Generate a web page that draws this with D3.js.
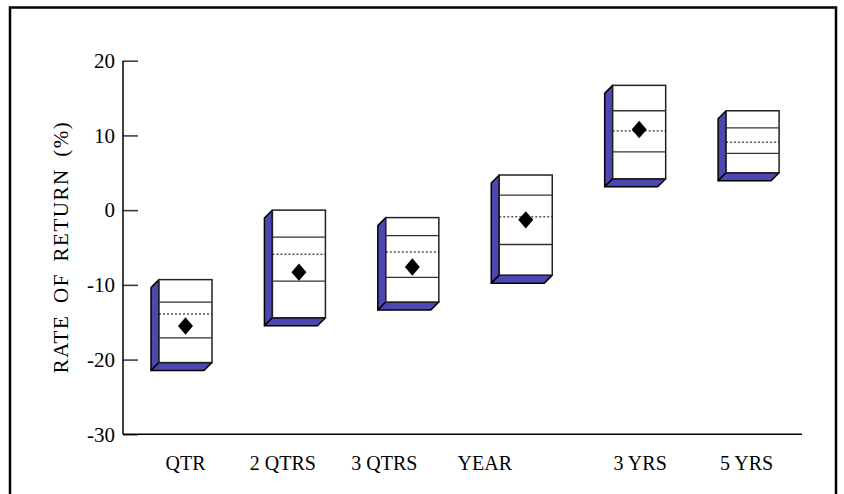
<!DOCTYPE html>
<html><head><meta charset="utf-8">
<script src="https://cdn.jsdelivr.net/npm/d3@7"></script>
<style>body{margin:0;background:#fff}svg{display:block}</style>
</head><body>
<script>
const categories = ["QTR","2 QTRS","3 QTRS","YEAR","3 YRS","5 YRS"];
const pct5  = [-9.3,  0.0, -1.0,  4.7, 16.7, 13.3];
const pct25 = [-12.3, -3.6, -3.4,  2.0, 13.3, 11.0];
const pct50 = [-13.9, -5.9, -5.6, -0.9, 10.6,  9.1];
const pct75 = [-17.1, -9.5, -9.0, -4.6,  7.8,  7.6];
const pct95 = [-20.4,-14.4,-12.3, -8.7,  4.2,  5.0];
const portfolio = [-15.5, -8.3, -7.6, -1.3, 10.8, null];
const yTicks = [-30,-20,-10,0,10,20];
const labelNudge = [0,-16,-28,-41,1,-6];

const W=844,H=494;
const svg=d3.select("body").append("svg").attr("width",W).attr("height",H);
svg.append("rect").attr("x",10).attr("y",7.5).attr("width",826).attr("height",500)
  .attr("fill","none").attr("stroke","#000").attr("stroke-width",2.5);

const y=d3.scaleLinear().domain([-30,20]).range([434.3,60.7]);
const x=d3.scalePoint().domain(categories).range([185.5,752.6]);
const axX0=123, axX1=802;
const hw=26.5, dep=8;
const blue="#4B48B2";
const font="'Liberation Serif','Times New Roman',serif";

// y axis
const ya=svg.append("g").attr("transform",`translate(${axX0},0)`)
  .call(d3.axisLeft(y).tickValues(yTicks).tickSize(-15).tickPadding(8).tickFormat(d=>String(d)));
ya.select(".domain").remove();
ya.selectAll(".tick line").attr("stroke","#333").attr("stroke-width",1.5);
ya.selectAll(".tick text").attr("font-family",font).attr("font-size",21).attr("fill","#000");
svg.append("line").attr("x1",axX0).attr("x2",axX0).attr("y1",y(20)).attr("y2",y(-30)).attr("stroke","#000").attr("stroke-width",1.5);
svg.append("line").attr("x1",axX0).attr("x2",axX1).attr("y1",y(-30)).attr("y2",y(-30)).attr("stroke","#000").attr("stroke-width",1.5);

// x labels
svg.append("g").selectAll("text").data(categories).join("text")
  .attr("x",(d,i)=>x(d)+labelNudge[i]).attr("y",470)
  .attr("text-anchor","middle").attr("font-family",font).attr("font-size",20).text(d=>d);

// y title
svg.append("text").attr("transform",`translate(68,247) rotate(-90)`)
  .attr("text-anchor","middle").attr("font-family",font).attr("font-size",21)
  .attr("letter-spacing",1.5).attr("word-spacing",5).text("RATE OF RETURN (%)");

// boxes
const g=svg.append("g");
categories.forEach((c,i)=>{
  const cx=x(c), L=cx-hw, R=cx+hw, T=y(pct5[i]), B=y(pct95[i]);
  const bg=g.append("g");
  bg.append("path").attr("d",`M${L},${T}L${L-dep},${T+dep}L${L-dep},${B+dep}L${L},${B}Z`)
    .attr("fill",blue).attr("stroke","#000").attr("stroke-width",1.5).attr("stroke-linejoin","round");
  bg.append("path").attr("d",`M${L},${B}L${R},${B}L${R-dep},${B+dep}L${L-dep},${B+dep}Z`)
    .attr("fill",blue).attr("stroke","#000").attr("stroke-width",1.5).attr("stroke-linejoin","round");
  bg.append("rect").attr("x",L).attr("y",T).attr("width",R-L).attr("height",B-T)
    .attr("fill","#fff").attr("stroke","#222").attr("stroke-width",1.5);
  [pct25[i],pct75[i]].forEach(v=>{
    bg.append("line").attr("x1",L).attr("x2",R).attr("y1",y(v)).attr("y2",y(v)).attr("stroke","#333").attr("stroke-width",1.3);
  });
  bg.append("line").attr("x1",L).attr("x2",R).attr("y1",y(pct50[i])).attr("y2",y(pct50[i]))
    .attr("stroke","#000").attr("stroke-width",1).attr("stroke-dasharray","2,2");
  if(portfolio[i]!=null){
    const py=y(portfolio[i]);
    bg.append("path").attr("d",`M${cx},${py-8.7}L${cx+7.5},${py}L${cx},${py+8.7}L${cx-7.5},${py}Z`).attr("fill","#000");
  }
});
</script>
</body></html>
